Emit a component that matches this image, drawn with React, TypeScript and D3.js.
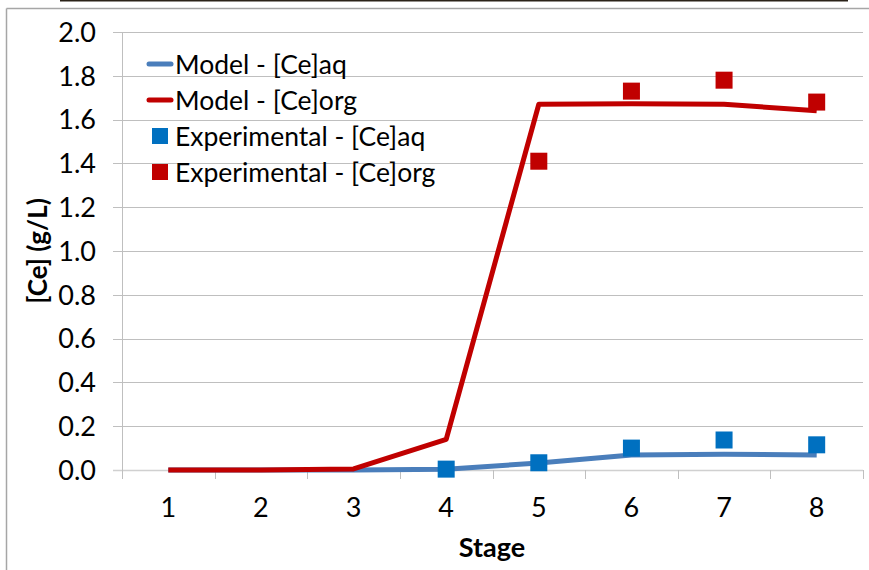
import React from "react";
import * as d3 from "d3";

const stages = [1, 2, 3, 4, 5, 6, 7, 8];
const modelAq = [0, 0, 0, 0.003, 0.032, 0.068, 0.072, 0.068];
const modelOrg = [0, 0, 0.005, 0.14, 1.67, 1.672, 1.67, 1.64];
const expStages = [4, 5, 6, 7, 8];
const expAq = [0.004, 0.033, 0.1, 0.137, 0.115];
const expOrgStages = [5, 6, 7, 8];
const expOrg = [1.41, 1.73, 1.78, 1.68];
const yTicks = [0, 0.2, 0.4, 0.6, 0.8, 1.0, 1.2, 1.4, 1.6, 1.8, 2.0];
const legendLabels = [
  "Model - [Ce]aq",
  "Model - [Ce]org",
  "Experimental - [Ce]aq",
  "Experimental - [Ce]org",
];

const W = 869;
const H = 570;
const FONT = "Lato, 'Open Sans', sans-serif";

export default function App() {
  const left = 122;
  const right = 863;
  const top = 32;
  const bottom = 470;
  const band = d3.scaleBand<number>().domain(stages).range([left, right]);
  const x = (s: number) => (band(s) as number) + band.bandwidth() / 2;
  const y = d3.scaleLinear().domain([0, 2]).range([bottom, top]);
  const line = d3
    .line<number>()
    .x((_, i) => x(stages[i]))
    .y((d) => y(d));
  const blueLine = "#4a7ebb";
  const blueMk = "#0070c0";
  const red = "#c00000";
  const mk = 17;
  const legendColors = [blueLine, red, blueMk, red];

  return (
    <svg
      width={W}
      height={H}
      style={{ position: "absolute", left: 0, top: 0, background: "#fff" }}
      fontFamily={FONT}
    >
      <rect x={0} y={0} width={W} height={H} fill="#fff" />
      <line x1={60} x2={848} y1={0.5} y2={0.5} stroke="#2a2218" strokeWidth={2} />
      <line x1={6.5} x2={W} y1={8.5} y2={8.5} stroke="#a6a6a6" strokeWidth={1.5} />
      <line x1={6.5} x2={6.5} y1={8.5} y2={H} stroke="#a6a6a6" strokeWidth={1.5} />
      {yTicks.map((t) => (
        <g key={t}>
          <line
            x1={113}
            x2={right}
            y1={Math.round(y(t)) + 0.5}
            y2={Math.round(y(t)) + 0.5}
            stroke={t === 0 ? "#d0d0d0" : "#bfbfbf"}
            strokeWidth={t === 0 ? 1.5 : 1}
          />
          <text
            x={96}
            y={y(t)}
            dy="0.36em"
            textAnchor="end"
            fontSize={27}
            fill="#000"
          >
            {t.toFixed(1)}
          </text>
        </g>
      ))}
      <line x1={left + 0.5} x2={left + 0.5} y1={top} y2={bottom + 9} stroke="#bfbfbf" />
      {d3.range(stages.length + 1).map((i) => {
        const xx = Math.round(left + i * band.step()) + 0.5;
        return <line key={i} x1={xx} x2={xx} y1={bottom} y2={bottom + 9} stroke="#bfbfbf" />;
      })}
      {stages.map((s) => (
        <text key={s} x={x(s)} y={517} textAnchor="middle" fontSize={27} fill="#000">
          {s}
        </text>
      ))}
      <text x={492} y={557} textAnchor="middle" fontSize={27} fontWeight="bold">
        Stage
      </text>
      <text
        transform={`translate(47,251) rotate(-90)`}
        textAnchor="middle"
        fontSize={26}
        fontWeight="bold"
      >
        [Ce] (g/L)
      </text>
      <path d={line(modelAq) || ""} fill="none" stroke={blueLine} strokeWidth={5} strokeLinejoin="round" />
      <path d={line(modelOrg) || ""} fill="none" stroke={red} strokeWidth={5} strokeLinejoin="round" />
      {expStages.map((s, i) => (
        <rect key={"a" + s} x={x(s) - mk / 2} y={y(expAq[i]) - mk / 2} width={mk} height={mk} fill={blueMk} />
      ))}
      {expOrgStages.map((s, i) => (
        <rect key={"o" + s} x={x(s) - mk / 2} y={y(expOrg[i]) - mk / 2} width={mk} height={mk} fill={red} />
      ))}
      {legendLabels.map((lab, i) => {
        const ly = 64 + i * 36;
        return (
          <g key={lab}>
            {i < 2 ? (
              <line x1={149} x2={171} y1={ly} y2={ly} stroke={legendColors[i]} strokeWidth={5} strokeLinecap="round" />
            ) : (
              <rect x={152} y={ly - 8} width={16} height={16} fill={legendColors[i]} />
            )}
            <text x={175} y={ly} dy="0.36em" fontSize={26.5} fill="#000">
              {lab}
            </text>
          </g>
        );
      })}
    </svg>
  );
}
